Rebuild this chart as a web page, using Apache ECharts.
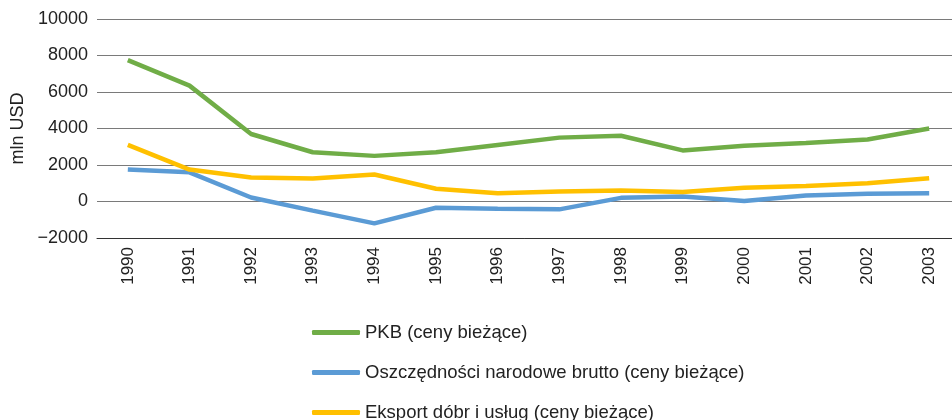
<!DOCTYPE html>
<html><head><meta charset="utf-8">
<script src="https://cdn.jsdelivr.net/npm/echarts@6/dist/echarts.min.js"></script>
<style>html,body{margin:0;padding:0;background:#fff}#c{width:952px;height:420px}</style>
</head><body><div id="c"></div>
<script>
const years = ['1990','1991','1992','1993','1994','1995','1996','1997','1998','1999','2000','2001','2002','2003'];
const pkb = [7750, 6350, 3700, 2700, 2500, 2700, 3100, 3500, 3600, 2800, 3050, 3200, 3400, 4000];
const oszczednosci = [1750, 1600, 220, -500, -1200, -340, -400, -430, 200, 270, 30, 330, 420, 450];
const eksport = [3100, 1750, 1320, 1260, 1480, 700, 450, 550, 600, 520, 750, 850, 1000, 1280];
const seriesNames = ['PKB (ceny bieżące)', 'Oszczędności narodowe brutto (ceny bieżące)', 'Eksport dóbr i usług (ceny bieżące)'];
const colors = ['#70AD47', '#5B9BD5', '#FFC000'];
const font = 'Liberation Sans, Arial, sans-serif';
const chart = echarts.init(document.getElementById('c'));
chart.setOption({
  animation: false,
  color: colors,
  grid: {left: 97, width: 863, top: 19, height: 219, containLabel: false, outerBoundsMode: 'none'},
  legend: {
    orient: 'vertical', left: 307, top: 318, height: 140, itemGap: 21,
    icon: 'roundRect', itemWidth: 48, itemHeight: 5, itemStyle: {borderWidth: 0},
    textStyle: {fontFamily: font, fontSize: 18.5, color: '#222'},
    data: seriesNames
  },
  xAxis: {
    type: 'category', data: years, boundaryGap: true,
    axisLine: {onZero: false, lineStyle: {color: '#333', width: 1}},
    axisTick: {show: false},
    axisLabel: {rotate: 90, fontFamily: font, fontSize: 17, color: '#222', margin: 9}
  },
  yAxis: {
    type: 'value', min: -2000, max: 10000, interval: 2000,
    name: 'mln USD', nameLocation: 'middle', nameRotate: 90, nameGap: 70,
    nameTextStyle: {fontFamily: font, fontSize: 18, color: '#222'},
    axisLine: {show: false}, axisTick: {show: false},
    axisLabel: {fontFamily: font, fontSize: 18, color: '#222', margin: 9,
      formatter: v => v < 0 ? '\u2212' + Math.abs(v) : String(v)},
    splitLine: {lineStyle: {color: '#7a7a7a', width: 1}}
  },
  series: [
    {name: seriesNames[0], type: 'line', data: pkb, symbol: 'none', lineStyle: {width: 4.5}},
    {name: seriesNames[1], type: 'line', data: oszczednosci, symbol: 'none', lineStyle: {width: 4.5}},
    {name: seriesNames[2], type: 'line', data: eksport, symbol: 'none', lineStyle: {width: 4.5}}
  ]
});
</script></body></html>
